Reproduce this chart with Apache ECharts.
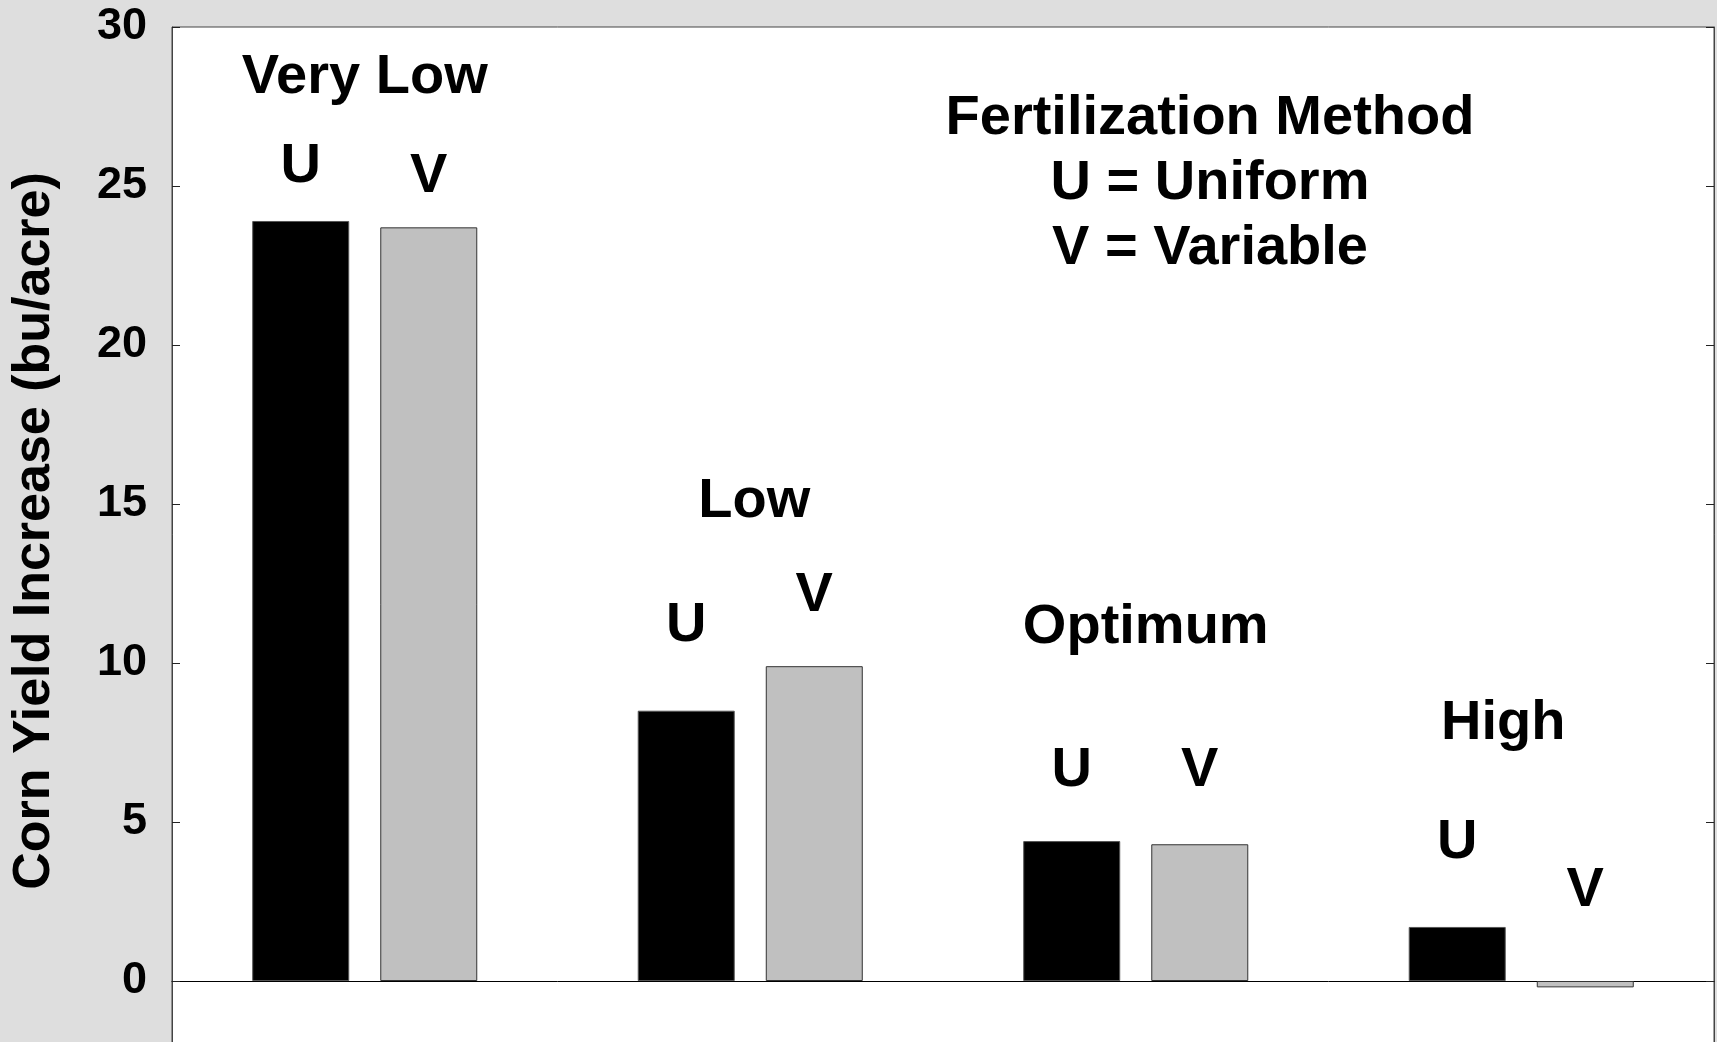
<!DOCTYPE html>
<html>
<head>
<meta charset="utf-8">
<title>Corn Yield Increase by Soil Test Level</title>
<script src="https://cdn.jsdelivr.net/npm/echarts@6/dist/echarts.min.js"></script>
<style>
  html, body { margin: 0; padding: 0; background: #dedede; }
  #chart { width: 1717px; height: 1042px; }
</style>
</head>
<body>
<div id="chart"></div>
<script>
// Soil test categories and yield response (bu/acre) for each fertilization method
const categories = ['Very Low', 'Low', 'Optimum', 'High'];
const uniform = [23.9, 8.5, 4.4, 1.7];
const variable = [23.7, 9.9, 4.3, -0.2];
const methodLetters = ['U', 'V'];
const legendLines = ['Fertilization Method', 'U = Uniform', 'V = Variable'];
const yAxisTitle = 'Corn Yield Increase (bu/acre)';

// Annotation layout: letter lift above each bar (px), category title anchor (axis units) and nudge (px)
const uLetterLift = [26, 57, 43, 56];
const vLetterLift = [23, 43, 46, 62];
const titleAnchorY = [28.40, 15.09, 11.10, 8.11];
const titleNudgeX = [0, 4, 10, -18];

const FONT = '"Liberation Sans", Arial, Helvetica, sans-serif';
const bigText = { fontFamily: FONT, fontWeight: 'bold', fontSize: 56, color: '#000' };

const chart = echarts.init(document.getElementById('chart'), null, { renderer: 'canvas' });

function barSeries(name, values, lifts, color, border) {
  return {
    name: name,
    type: 'bar',
    barWidth: 97,
    barGap: '32%',
    itemStyle: { color: color, borderColor: border, borderWidth: 1 },
    label: Object.assign({ show: true, position: 'top', formatter: name }, bigText),
    data: values.map((v, i) => ({ value: v, label: { distance: lifts[i] } })),
    z: 3
  };
}

const yCommon = {
  type: 'value',
  min: -5,
  max: 30,
  interval: 5,
  splitLine: { show: false },
  axisLine: { show: true, lineStyle: { color: '#444', width: 1 } },
  axisTick: { show: true, inside: true, length: 8, lineStyle: { color: '#222', width: 1 } }
};

chart.setOption({
  animation: false,
  backgroundColor: '#dedede',
  grid: {
    left: 172,
    right: 3,
    top: 27,
    bottom: -98,
    show: true,
    backgroundColor: '#ffffff',
    borderColor: '#444',
    borderWidth: 1,
    containLabel: false,
    outerBoundsMode: 'none'
  },
  xAxis: {
    type: 'category',
    data: categories,
    axisLabel: { show: false },
    axisTick: { show: false },
    splitLine: { show: false },
    axisLine: { show: true, onZero: true, onZeroAxisIndex: 0, lineStyle: { color: '#000', width: 1 } }
  },
  yAxis: [
    Object.assign({}, yCommon, {
      position: 'left',
      axisLabel: { show: true, margin: 25, fontFamily: FONT, fontWeight: 'bold', fontSize: 45, color: '#000' }
    }),
    Object.assign({}, yCommon, {
      position: 'right',
      axisLabel: { show: false }
    })
  ],
  series: [
    barSeries(methodLetters[0], uniform, uLetterLift, '#000000', '#555555'),
    barSeries(methodLetters[1], variable, vLetterLift, '#c0c0c0', '#333333'),
    {
      // category titles drawn as labels on invisible anchor points
      name: 'titles',
      type: 'scatter',
      silent: true,
      symbolSize: 1,
      itemStyle: { color: 'rgba(0,0,0,0)', opacity: 1 },
      label: Object.assign({ show: true, position: 'inside', formatter: '{b}', textBorderWidth: 0 }, bigText),
      data: categories.map((c, i) => ({
        name: c,
        value: [i, titleAnchorY[i]],
        label: { offset: [titleNudgeX[i], 0] }
      })),
      z: 4
    }
  ],
  graphic: [
    {
      type: 'text',
      x: 1210,
      y: 86,
      silent: true,
      style: {
        text: legendLines.join('\n'),
        align: 'center',
        verticalAlign: 'top',
        lineHeight: 65,
        fontFamily: FONT,
        fontWeight: 'bold',
        fontSize: 56,
        fill: '#000'
      },
      z: 10
    },
    {
      type: 'text',
      x: 35,
      y: 531,
      rotation: Math.PI / 2,
      silent: true,
      style: {
        text: yAxisTitle,
        align: 'center',
        verticalAlign: 'middle',
        fontFamily: FONT,
        fontWeight: 'bold',
        fontSize: 52,
        fill: '#000'
      },
      z: 10
    }
  ]
});
</script>
</body>
</html>
